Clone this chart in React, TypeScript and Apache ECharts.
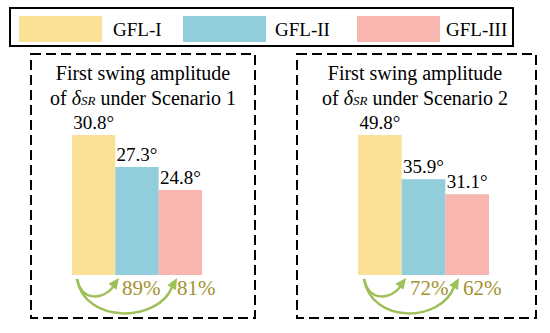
import React, { useEffect, useRef } from "react";
import * as echarts from "echarts";

const seriesNames = ["GFL-I", "GFL-II", "GFL-III"];
const scenarioTitles = ["Scenario 1", "Scenario 2"];
const scenario1 = [30.8, 27.3, 24.8];
const scenario2 = [49.8, 35.9, 31.1];
const colors = ["#fae196", "#92cddb", "#f9b6b1"];

const FONT = "Liberation Serif";
const GREEN = "#9dc05a";
const OLIVE = "#a3922f";

const legendLefts = [19, 183, 357];
const legendTextPad = [6, 4, 1];

const pct = (v: number, ref: number) => Math.round((v / ref) * 100) + "%";

function arrowHead(tx: number, ty: number, dx: number, dy: number) {
  const len = Math.hypot(dx, dy);
  const ux = dx / len, uy = dy / len;
  const px = -uy, py = ux;
  const L = 11, W = 5;
  const bx = tx - ux * L, by = ty - uy * L;
  return {
    type: "polygon",
    shape: { points: [[tx, ty], [bx + px * W, by + py * W], [bx - px * W, by - py * W]] },
    style: { fill: GREEN },
  };
}

function arrows(sx: number, tip1: number, tip2: number) {
  const y0 = 279;
  return [
    {
      type: "bezierCurve",
      shape: { x1: sx, y1: y0, cpx1: sx + 5, cpy1: 302, cpx2: tip1 - 16, cpy2: 300, x2: tip1 - 5, y2: y0 + 7 },
      style: { stroke: GREEN, lineWidth: 2.5, fill: "none" },
    },
    arrowHead(tip1, y0 - 1, 6, -8),
    {
      type: "bezierCurve",
      shape: { x1: sx, y1: y0, cpx1: sx + 8, cpy1: 325, cpx2: tip2 - 18, cpy2: 322, x2: tip2 - 5, y2: y0 + 8 },
      style: { stroke: GREEN, lineWidth: 2.5, fill: "none" },
    },
    arrowHead(tip2, y0 - 1, 5, -9),
  ];
}

function titleText(cx: number, scen: string) {
  return {
    type: "text",
    x: cx,
    y: 60,
    style: {
      text: "{a|First swing amplitude}\n{a|of }{i|δ}{s|SR}{a| under " + scen + "}",
      align: "center",
      verticalAlign: "top",
      fill: "#000",
      fontFamily: FONT,
      rich: {
        a: { fontFamily: FONT, fontSize: 20, lineHeight: 25, fill: "#000" },
        i: { fontFamily: FONT, fontSize: 20, fontStyle: "italic", lineHeight: 25, fill: "#000" },
        s: { fontFamily: FONT, fontSize: 13, fontStyle: "italic", lineHeight: 25, fill: "#000", padding: [6, 0, 0, 0] },
      },
    },
  };
}

function pctText(x: number, text: string) {
  return {
    type: "text",
    x,
    y: 288,
    style: { text, fontFamily: FONT, fontSize: 21, fill: OLIVE, verticalAlign: "middle", align: "left" },
  };
}

export default function App() {
  const ref = useRef<HTMLDivElement>(null);
  useEffect(() => {
    document.body.style.margin = "0";
    if (!ref.current) return;
    const chart = echarts.init(ref.current, null, { renderer: "svg" });
    const datasets = [scenario1, scenario2];
    const series: any[] = [];
    datasets.forEach((vals, gi) => {
      vals.forEach((v, si) => {
        series.push({
          type: "bar",
          name: seriesNames[si],
          xAxisIndex: gi,
          yAxisIndex: gi,
          data: [v],
          barGap: "0%",
          barCategoryGap: "0%",
          clip: true,
          itemStyle: { color: colors[si] },
          label: {
            show: true,
            position: "top",
            distance: 3,
            formatter: (p: any) => p.value + "°",
            fontFamily: FONT,
            fontSize: 19,
            color: "#000",
          },
        });
      });
    });
    chart.setOption({
      animation: false,
      color: colors,
      textStyle: { fontFamily: FONT },
      legend: seriesNames.map((n, i) => ({
        data: [n],
        left: legendLefts[i],
        top: 16,
        padding: 0,
        itemWidth: 83,
        itemHeight: 26,
        icon: "rect",
        selectedMode: false,
        textStyle: { fontFamily: FONT, fontSize: 19, color: "#000", padding: [0, 0, 0, legendTextPad[i]] },
      })),
      grid: [
        { left: 72, top: 135, width: 130, height: 140 },
        { left: 358, top: 135, width: 131, height: 140 },
      ],
      xAxis: [
        { type: "category", gridIndex: 0, data: ["S1"], show: false },
        { type: "category", gridIndex: 1, data: ["S2"], show: false },
      ],
      yAxis: [
        { type: "value", gridIndex: 0, min: 15.5, max: 30.8, show: false },
        { type: "value", gridIndex: 1, min: 5.7, max: 49.8, show: false },
      ],
      series,
      graphic: [
        { type: "rect", shape: { x: 10, y: 8, width: 503, height: 38 }, style: { fill: "none", stroke: "#000", lineWidth: 2 } },
        { type: "rect", shape: { x: 31, y: 54, width: 224, height: 264 }, style: { fill: "none", stroke: "#000", lineWidth: 2, lineDash: [10, 5] } },
        { type: "rect", shape: { x: 297, y: 54, width: 239, height: 264 }, style: { fill: "none", stroke: "#000", lineWidth: 2, lineDash: [10, 5] } },
        titleText(143, scenarioTitles[0]),
        titleText(415, scenarioTitles[1]),
        ...arrows(77, 119, 177),
        ...arrows(364, 406, 459),
        pctText(122, pct(scenario1[1], scenario1[0])),
        pctText(177, pct(scenario1[2], scenario1[0])),
        pctText(410, pct(scenario2[1], scenario2[0])),
        pctText(463, pct(scenario2[2], scenario2[0])),
      ],
    });
    return () => chart.dispose();
  }, []);
  return <div ref={ref} style={{ width: 550, height: 333 }} />;
}
